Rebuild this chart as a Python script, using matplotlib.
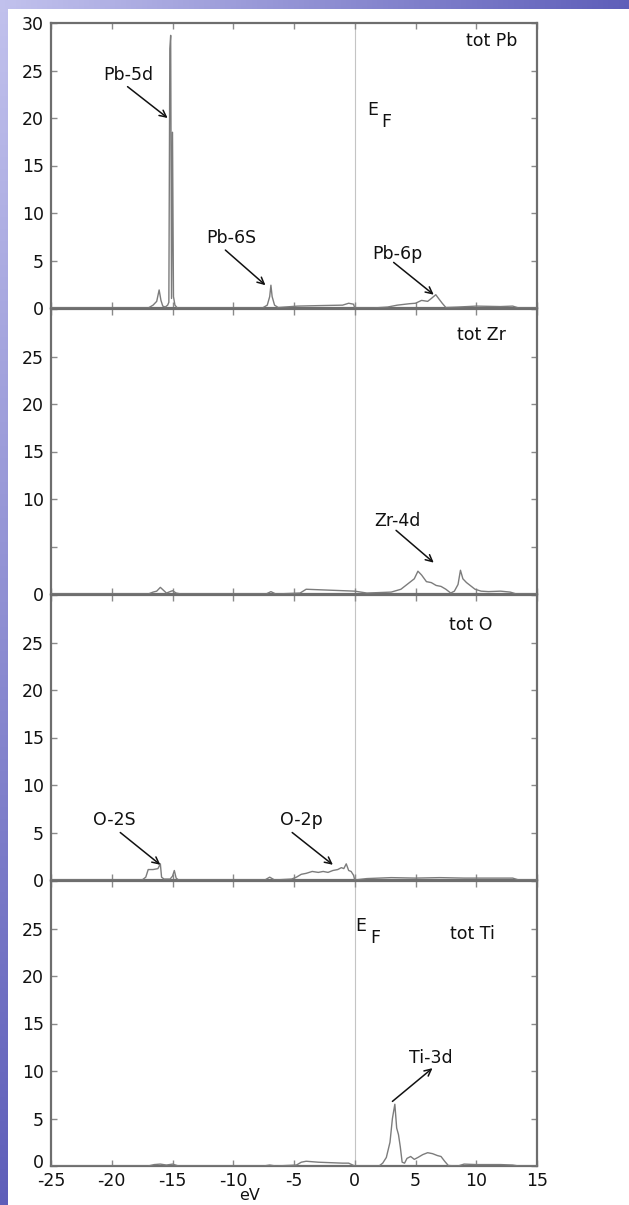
import numpy as np
import matplotlib
matplotlib.use("Agg")
import matplotlib.pyplot as plt
from matplotlib.patches import Rectangle
from matplotlib.transforms import ScaledTranslation

# ---------------- data ----------------
e_pb = [-25, -17.0, -16.6, -16.3, -16.1, -15.95, -15.8, -15.6, -15.4, -15.3, -15.22, -15.15,
        -15.08, -15.0, -14.92, -14.8, -14.6, -7.6, -7.2, -7.0, -6.9, -6.8, -6.6, -6.3, -4.7,
        -3.0, -1.0, -0.5, -0.1, 0.0, 1.5, 2.7, 3.5, 4.5, 5.0, 5.5, 6.0, 6.3, 6.67, 6.9, 7.2,
        7.5, 8.5, 10.0, 12.0, 13.0, 13.5, 15]
dos_pb = [0, 0, 0.3, 0.7, 1.9, 0.8, 0.2, 0.1, 0.3, 0.6, 27.3, 28.7,
          1.0, 18.5, 1.2, 0.3, 0, 0, 0.3, 1.2, 2.4, 1.2, 0.3, 0.05, 0.2,
          0.25, 0.3, 0.5, 0.4, 0, 0, 0.1, 0.3, 0.45, 0.5, 0.8, 0.7, 1.0, 1.4, 1.0, 0.5,
          0.05, 0.1, 0.2, 0.15, 0.2, 0, 0]

e_zr = [-25, -17.0, -16.6, -16.3, -16.0, -15.5, -15.0, -14.7, -14.3, -7.3, -6.9, -6.5, -4.5,
        -4.0, -3.0, -2.0, -1.0, 0.0, 1.0, 2.0, 3.0, 3.8, 4.4, 4.9, 5.2, 5.5, 5.9, 6.3, 6.7,
        7.1, 7.5, 7.9, 8.2, 8.5, 8.7, 8.9, 9.2, 9.5, 9.9, 10.4, 11.0, 12.0, 12.8, 13.3, 15]
dos_zr = [0, 0, 0.2, 0.3, 0.7, 0.1, 0.35, 0.1, 0, 0, 0.25, 0, 0.1,
          0.5, 0.45, 0.4, 0.35, 0.3, 0.1, 0.15, 0.2, 0.5, 1.1, 1.6, 2.4, 2.0, 1.3, 1.2, 0.9,
          0.8, 0.5, 0.1, 0.3, 1.0, 2.5, 1.6, 1.2, 0.9, 0.5, 0.3, 0.25, 0.3, 0.2, 0, 0]

e_o = [-25, -17.5, -17.2, -17.0, -16.6, -16.2, -16.0, -15.9, -15.7, -15.5, -15.2, -15.0,
       -14.85, -14.7, -14.5, -7.4, -7.0, -6.6, -5.2, -4.8, -4.4, -4.0, -3.5, -3.0, -2.6,
       -2.2, -1.8, -1.4, -1.1, -0.9, -0.7, -0.5, -0.3, -0.1, 0.0, 1.0, 3.0, 5.0, 7.0, 9.0,
       11.0, 13.0, 13.5, 15]
dos_o = [0, 0, 0.3, 1.1, 1.1, 1.2, 1.7, 0.3, 0.1, 0.1, 0.1, 0.4,
         1.0, 0.2, 0, 0, 0.3, 0, 0.1, 0.3, 0.6, 0.7, 0.9, 0.8, 0.9,
         0.8, 1.0, 1.1, 1.3, 1.2, 1.7, 1.0, 0.9, 0.5, 0, 0.15, 0.25, 0.2, 0.25, 0.2,
         0.2, 0.2, 0, 0]

e_ti = [-25, -17.0, -16.5, -16.0, -15.5, -15.0, -14.5, -7.5, -7.0, -6.5, -4.8, -4.4, -4.0,
        -3.5, -3.0, -2.0, -1.0, -0.5, 0.0, 2.0, 2.3, 2.6, 2.9, 3.1, 3.3, 3.45, 3.6, 3.75,
        3.9, 4.1, 4.3, 4.6, 4.9, 5.2, 5.6, 6.0, 6.4, 6.8, 7.1, 7.4, 7.7, 8.5, 9.0, 10.0,
        11.0, 12.0, 13.0, 13.5, 15]
dos_ti = [0, 0, 0.15, 0.2, 0.1, 0.2, 0, 0, 0.1, 0, 0.1, 0.4, 0.5,
          0.45, 0.4, 0.35, 0.3, 0.3, 0, 0, 0.3, 0.9, 2.5, 5.0, 6.5, 4.0, 3.3, 2.0,
          0.4, 0.3, 0.8, 1.0, 0.7, 0.9, 1.2, 1.4, 1.3, 1.1, 1.0, 0.5, 0.05, 0, 0.2, 0.15,
          0.15, 0.15, 0.1, 0, 0]

panel_titles = ["tot Pb", "tot Zr", "tot O", "tot Ti"]
x_ticks = [-25, -20, -15, -10, -5, 0, 5, 10, 15]
x_ticklabels = ["-25", "-20", "-15", "-10", "-5", "0", "5", "10", "15"]
y_ticks = [0, 5, 10, 15, 20, 25, 30]
y_labels_per_panel = [
    ["0", "5", "10", "15", "20", "25", "30"],
    ["0", "", "10", "15", "20", "25", ""],
    ["0", "5", "10", "15", "20", "25", ""],
    ["0", "5", "10", "15", "20", "25", ""],
]
x_label = "eV"
# annotations: (panel, text, text_xy, arrow_start, arrow_end)
annots = [
    (0, "Pb-5d", (-18.65, 24.5), (-18.7, 23.3), (-15.4, 20.0)),
    (0, "Pb-6S", (-10.15, 7.4), (-10.65, 6.1), (-7.35, 2.4)),
    (0, "Pb-6p", (3.5, 5.7), (3.2, 4.8), (6.5, 1.4)),
    (1, "Zr-4d", (3.5, 7.7), (3.4, 6.7), (6.5, 3.3)),
    (2, "O-2S", (-19.8, 6.3), (-19.3, 5.0), (-16.0, 1.6)),
    (2, "O-2p", (-4.4, 6.3), (-5.15, 5.0), (-1.8, 1.6)),
    (3, "Ti-3d", (6.3, 11.4), (3.1, 6.8), (6.4, 10.3)),
]
ef_positions = {0: (1.47, 20.8), 3: (0.5, 25.3)}
title_pos = [(11.3, 28.1), (10.4, 27.3), (9.55, 26.8), (9.7, 24.4)]

energies = [e_pb, e_zr, e_o, e_ti]
dos_all = [dos_pb, dos_zr, dos_o, dos_ti]

# ---------------- figure ----------------
W, H = 629, 1205
fig = plt.figure(figsize=(W / 100, H / 100), dpi=100)
plt.rcParams['font.family'] = ['DejaVu Sans']

# blue gradient slide background
bg = fig.add_axes([0, 0, 1, 1])
bg.axis("off")
yy, xx = np.mgrid[0:1:200j, 0:1:120j]
t = np.clip(0.75 * xx + 0.75 * yy, 0, 1)
c1 = np.array([0.76, 0.76, 0.93])
c2 = np.array([0.24, 0.24, 0.66])
img = c1[None, None, :] * (1 - t[..., None]) + c2[None, None, :] * t[..., None]
bg.imshow(img, aspect="auto", extent=[0, 1, 0, 1], origin="upper")
bg.add_patch(Rectangle((8 / W, 0), 1, 1 - 9 / H, transform=bg.transAxes,
                       facecolor="white", edgecolor="none"))
bg.set_xlim(0, 1)
bg.set_ylim(0, 1)

left_px, right_px = 51, 537
zero_px = [308, 594, 880, 1166]
ph = 285
spine_c = "#6e6e6e"
line_c = "#7c7c7c"
txt_c = "#111111"
fs = 12.5

axes = []
for i in range(4):
    ax = fig.add_axes([left_px / W, 1 - zero_px[i] / H, (right_px - left_px) / W, ph / H])
    axes.append(ax)
    ax.set_facecolor("none")
    ax.plot(energies[i], dos_all[i], color=line_c, lw=1.0, zorder=3)
    ax.axvline(0, color="#c4c4c4", lw=0.8, zorder=1)
    ax.set_xlim(-25, 15)
    ax.set_ylim(0, 30)
    ax.set_xticks(x_ticks)
    ax.set_yticks(y_ticks)
    ax.set_yticklabels(y_labels_per_panel[i])
    if i == 3:
        ax.set_xticklabels(x_ticklabels)
    else:
        ax.set_xticklabels([])
    ax.tick_params(direction="in", length=4, width=1, color="#8a8a8a",
                   top=True, right=True, labelsize=fs, labelcolor=txt_c, pad=5)
    ax.tick_params(axis="x", pad=4)
    for s in ax.spines.values():
        s.set_color(spine_c)
        s.set_linewidth(1.6)
    ax.text(title_pos[i][0], title_pos[i][1], panel_titles[i], ha="center", va="center",
            fontsize=fs, color=txt_c)
    if i in ef_positions:
        ex, ey = ef_positions[i]
        ax.text(ex, ey, "E", ha="center", va="center", fontsize=fs, color=txt_c)
        ax.text(ex + 1.15, ey - 1.25, "F", ha="center", va="center", fontsize=fs, color=txt_c)

# lift the bottom "0" label a little so it clears the x tick labels (as in the reference)
lab0 = axes[3].get_yticklabels()[0]
lab0.set_transform(lab0.get_transform() + ScaledTranslation(0, 5 / 100, fig.dpi_scale_trans))

for (p, label, txy, a0, a1) in annots:
    ax = axes[p]
    ax.text(txy[0], txy[1], label, ha="center", va="center", fontsize=fs, color=txt_c)
    ax.annotate("", xy=a1, xytext=a0,
                arrowprops=dict(arrowstyle="->", color="#111111", lw=1.1,
                                mutation_scale=12, shrinkA=0, shrinkB=0))

# x label "eV" sits between the -10 and -5 tick labels, slightly lower
fig.text(250 / W, 1 - 1196 / H, x_label, ha="center", va="center", fontsize=11.5,
         color=txt_c)

fig.savefig("out.png", dpi=100)
